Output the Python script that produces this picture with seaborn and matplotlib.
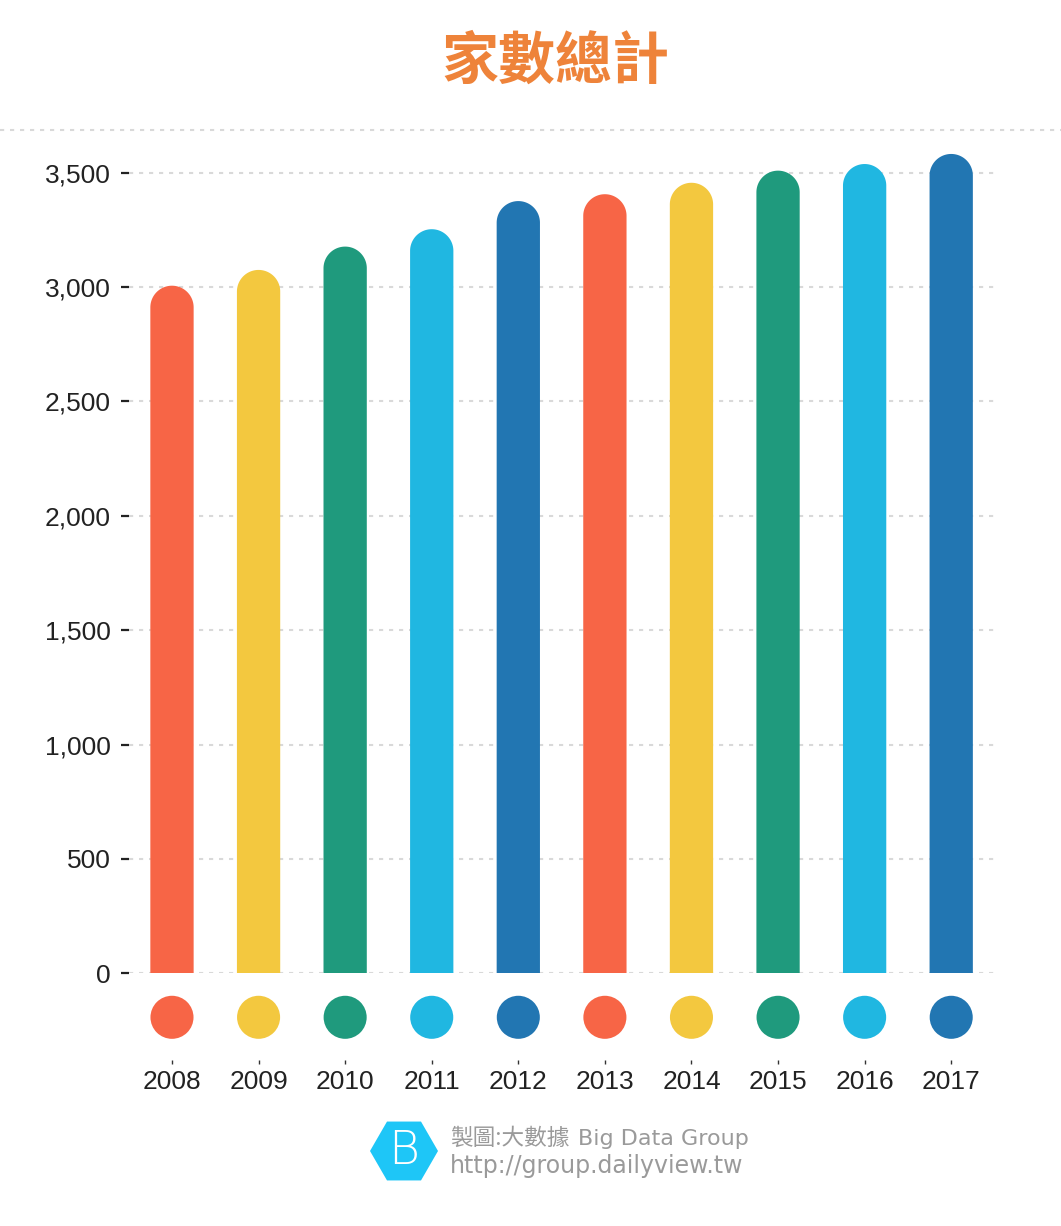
import matplotlib
matplotlib.use("Agg")
import matplotlib.pyplot as plt
import matplotlib.transforms as mtransforms
from matplotlib.patches import PathPatch, RegularPolygon
from matplotlib.path import Path
from matplotlib.lines import Line2D
import seaborn as sns
import pandas as pd
import numpy as np

years = ["2008", "2009", "2010", "2011", "2012", "2013", "2014", "2015", "2016", "2017"]
counts = [3006, 3075, 3177, 3253, 3376, 3406, 3456, 3509, 3538, 3582]
colors = ["#F76546", "#F3C83F", "#1F9A7D", "#20B7E1", "#2276B2",
          "#F76546", "#F3C83F", "#1F9A7D", "#20B7E1", "#2276B2"]
yticks = [0, 500, 1000, 1500, 2000, 2500, 3000, 3500]
title = "家數總計"
credit_cjk = "製圖:大數據"
credit_en = "Big Data Group"
credit_url = "http://group.dailyview.tw"

sns.set_theme(style="white")
plt.rcParams["font.family"] = ["Liberation Sans", "Noto Sans CJK TC", "DejaVu Sans"]

W, H, DPI = 1061, 1226, 100
fig = plt.figure(figsize=(W / DPI, H / DPI), dpi=DPI)
fig.patch.set_facecolor("white")

ax_left, ax_right = 128.7, 994.5
ax_bottom_px = 973.3
ymax = 3600
py = 0.22874  # px per unit
ax_h = ymax * py
ax = fig.add_axes([ax_left / W, (H - ax_bottom_px) / H, (ax_right - ax_left) / W, ax_h / H])

df = pd.DataFrame({"year": years, "count": counts})
sns.barplot(data=df, x="year", y="count", hue="year", palette=colors,
            legend=False, ax=ax, width=0.5, saturation=1)
ax.set_xlim(-0.5, len(years) - 0.5)
ax.set_ylim(0, ymax)

px = (ax_right - ax_left) / len(years)
aspect = px / py
theta = np.linspace(0, np.pi, 60)
for p in list(ax.patches):
    x0, w, h = p.get_x(), p.get_width(), p.get_height()
    fc = p.get_facecolor()
    p.remove()
    rx = w / 2
    ry = rx * aspect
    xc = x0 + rx
    top = h - ry
    verts = [(x0, 0), (x0, top)]
    verts += [(xc - rx * np.cos(t), top + ry * np.sin(t)) for t in theta]
    verts += [(x0 + w, 0), (x0, 0)]
    codes = [Path.MOVETO] + [Path.LINETO] * (len(verts) - 2) + [Path.CLOSEPOLY]
    ax.add_patch(PathPatch(Path(verts, codes), facecolor=fc, edgecolor="none", zorder=2))

# circles below axis
trans = mtransforms.blended_transform_factory(ax.transData, ax.transAxes)
ax.scatter(range(len(years)), [-44 / ax_h] * len(years), s=31 ** 2, c=colors,
           transform=trans, clip_on=False, linewidths=0, zorder=3)

for s in ax.spines.values():
    s.set_visible(False)
ax.spines["bottom"].set_position(("outward", 87 * 72 / DPI))

ax.yaxis.grid(True, color="#d9d9d9", linestyle=(0, (2, 2.8)), linewidth=1.5, zorder=0)
ax.set_axisbelow(True)
ax.set_yticks(yticks)
ax.set_yticklabels([f"{v:,}" for v in yticks])
ax.tick_params(axis="y", which="both", left=True, length=6, width=1.6,
               color="#222222", labelsize=19, labelcolor="#222222", pad=7)
ax.tick_params(axis="x", which="both", bottom=True, length=3, width=1,
               color="#333333", labelsize=19, labelcolor="#222222", pad=4,
               direction="out")
ax.set_xlabel("")
ax.set_ylabel("")

# title
fig.text(555 / W, 1 - 62 / H, title, ha="center", va="center", fontsize=41,
         fontweight="bold", color="#EE833A",
         family=["Noto Sans CJK TC", "DejaVu Sans"])

# top separator
fig.add_artist(Line2D([0, 1], [1 - 130 / H, 1 - 130 / H], transform=fig.transFigure,
                      color="#d9d9d9", linestyle=(0, (2, 2.8)), linewidth=1.5))

# logo
lax = fig.add_axes([370 / W, (H - 1181) / H, 68 / W, 60 / H])
lax.set_xlim(-34, 34)
lax.set_ylim(-30, 30)
lax.axis("off")
lax.add_patch(RegularPolygon((0, 0), 6, radius=34, orientation=np.pi / 6,
                             facecolor="#1EC6F7", edgecolor="none"))
lax.text(0, 0, "B", ha="center", va="center", fontsize=34, color="white",
         family=["DejaVu Sans"], fontweight="light")

gray = "#9a9a9a"
fig.text(450 / W, 1 - 1145 / H, credit_cjk, ha="left", va="baseline", fontsize=16.3,
         color=gray, family=["Noto Sans CJK TC", "DejaVu Sans"])
fig.text(578 / W, 1 - 1145 / H, credit_en, ha="left", va="baseline", fontsize=16,
         color=gray, family=["DejaVu Sans"])
fig.text(450 / W, 1 - 1173 / H, credit_url, ha="left", va="baseline", fontsize=17,
         color=gray, family=["DejaVu Sans"])

fig.savefig("out.png", dpi=DPI, facecolor="white")
